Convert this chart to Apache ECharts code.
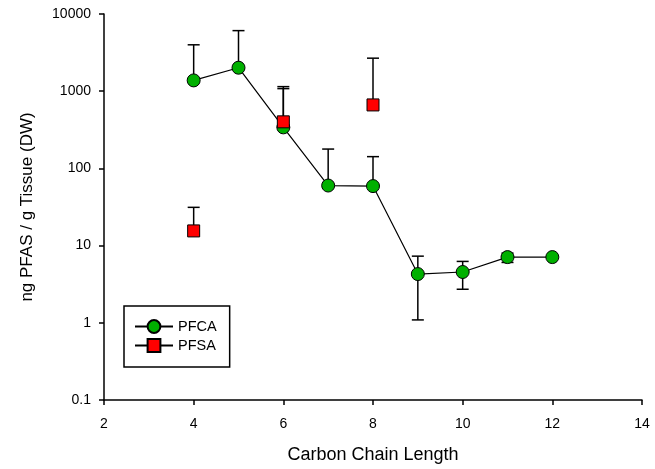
<!DOCTYPE html>
<html>
<head>
<meta charset="utf-8">
<script src="https://cdn.jsdelivr.net/npm/echarts@6/dist/echarts.min.js"></script>
<style>
html,body{margin:0;padding:0;background:#fff;}
#c{width:655px;height:469px;}
</style>
</head>
<body>
<div id="c"></div>
<script>
// Data
const pfcaX = [4, 5, 6, 7, 8, 9, 10, 11, 12];
const pfcaY = [1380, 2015, 340, 60, 59, 4.28, 4.55, 7.1, 7.1];
const pfcaUpper = [3990, 6090, 1146, 178, 142, 7.3, 6.24, 8.0, null];
const pfcaLower = [null, null, null, null, null, 1.09, 2.72, 6.05, null];

const pfsaX = [4, 6, 8];
const pfsaY = [15.5, 401, 664];
const pfsaUpper = [31.3, 1080, 2678];
const pfsaLower = [null, null, null];

const xTicks = [2, 4, 6, 8, 10, 12, 14];
const yTicks = [0.1, 1, 10, 100, 1000, 10000];

function errData(xs, ys, up, lo) {
  return xs.map((x, i) => [x, lo[i] == null ? ys[i] : lo[i], up[i] == null ? ys[i] : up[i]]);
}
function lineData(xs, ys) {
  const out = [];
  for (let i = 0; i < xs.length; i++) {
    if (i > 0 && xs[i] - xs[i - 1] > 1) out.push([xs[i - 1] + 1, '-']);
    out.push([xs[i], ys[i]]);
  }
  return out;
}
function errRenderFactory(lowers) {
  return function (params, api) {
    const x = api.value(0), lo = api.value(1), hi = api.value(2);
    const pLo = api.coord([x, lo]);
    const pHi = api.coord([x, hi]);
    const cw = 6;
    const st = { stroke: '#000', lineWidth: 1.5 };
    const children = [];
    if (Math.abs(pLo[1] - pHi[1]) < 0.5) return { type: 'group', children: [] };
    children.push({ type: 'line', shape: { x1: pLo[0], y1: pLo[1], x2: pHi[0], y2: pHi[1] }, style: st });
    children.push({ type: 'line', shape: { x1: pHi[0] - cw, y1: pHi[1], x2: pHi[0] + cw, y2: pHi[1] }, style: st });
    if (lowers[params.dataIndex] != null) {
      children.push({ type: 'line', shape: { x1: pLo[0] - cw, y1: pLo[1], x2: pLo[0] + cw, y2: pLo[1] }, style: st });
    }
    return { type: 'group', children: children };
  };
}

const chart = echarts.init(document.getElementById('c'), null, { renderer: 'canvas' });
const font = 'Arial, "Liberation Sans", sans-serif';
chart.setOption({
  animation: false,
  backgroundColor: '#fff',
  textStyle: { fontFamily: font, color: '#000' },
  grid: { left: 104, right: 13, top: 14, bottom: 67, containLabel: false },
  legend: {
    orient: 'vertical',
    left: 124, top: 306,
    padding: [13, 13, 14, 10],
    itemGap: 4,
    itemWidth: 38, itemHeight: 16,
    borderColor: '#000', borderWidth: 1.5,
    backgroundColor: '#fff',
    textStyle: { fontFamily: font, fontSize: 14.5, color: '#000' },
    data: ['PFCA', 'PFSA']
  },
  xAxis: {
    type: 'value', min: 2, max: 14, interval: 2,
    name: 'Carbon Chain Length', nameLocation: 'middle', nameGap: 46,
    nameTextStyle: { fontSize: 18, color: '#000', fontFamily: font },
    axisLine: { show: true, onZero: false, lineStyle: { color: '#000', width: 1.5 } },
    axisTick: { show: true, length: 5, lineStyle: { color: '#000', width: 1.5 } },
    axisLabel: { fontSize: 14, color: '#000', margin: 17,
      formatter: v => xTicks.indexOf(v) >= 0 ? String(v) : '' },
    splitLine: { show: false }
  },
  yAxis: {
    type: 'log', logBase: 10, min: 0.1, max: 10000,
    name: 'ng PFAS / g Tissue (DW)', nameLocation: 'middle', nameGap: 68,
    nameTextStyle: { fontSize: 17, color: '#000', fontFamily: font },
    axisLine: { show: true, onZero: false, lineStyle: { color: '#000', width: 1.5 } },
    axisTick: { show: true, length: 5, lineStyle: { color: '#000', width: 1.5 } },
    minorTick: { show: false },
    axisLabel: { fontSize: 14, color: '#000', margin: 13,
      formatter: v => { const m = yTicks.find(t => Math.abs(t - v) / t < 1e-6); return m == null ? '' : String(m); } },
    splitLine: { show: false }
  },
  series: [
    {
      name: 'PFCA-err', type: 'custom', z: 1,
      renderItem: errRenderFactory(pfcaLower),
      data: errData(pfcaX, pfcaY, pfcaUpper, pfcaLower),
      encode: { x: 0, y: [1, 2] }, silent: true
    },
    {
      name: 'PFCA', type: 'line', z: 2,
      data: lineData(pfcaX, pfcaY),
      symbol: 'circle', symbolSize: 13,
      lineStyle: { color: '#000', width: 1.2 },
      itemStyle: { color: '#00b000', borderColor: '#000', borderWidth: 1 },
      emphasis: { disabled: true }
    },
    {
      name: 'PFSA-err', type: 'custom', z: 3,
      renderItem: errRenderFactory(pfsaLower),
      data: errData(pfsaX, pfsaY, pfsaUpper, pfsaLower),
      encode: { x: 0, y: [1, 2] }, silent: true
    },
    {
      name: 'PFSA', type: 'line', z: 4,
      data: lineData(pfsaX, pfsaY),
      connectNulls: false,
      symbol: 'rect', symbolSize: 12,
      lineStyle: { color: '#000', width: 1.2 },
      itemStyle: { color: '#ff0000', borderColor: '#000', borderWidth: 1 },
      emphasis: { disabled: true }
    }
  ]
});
</script>
</body>
</html>
